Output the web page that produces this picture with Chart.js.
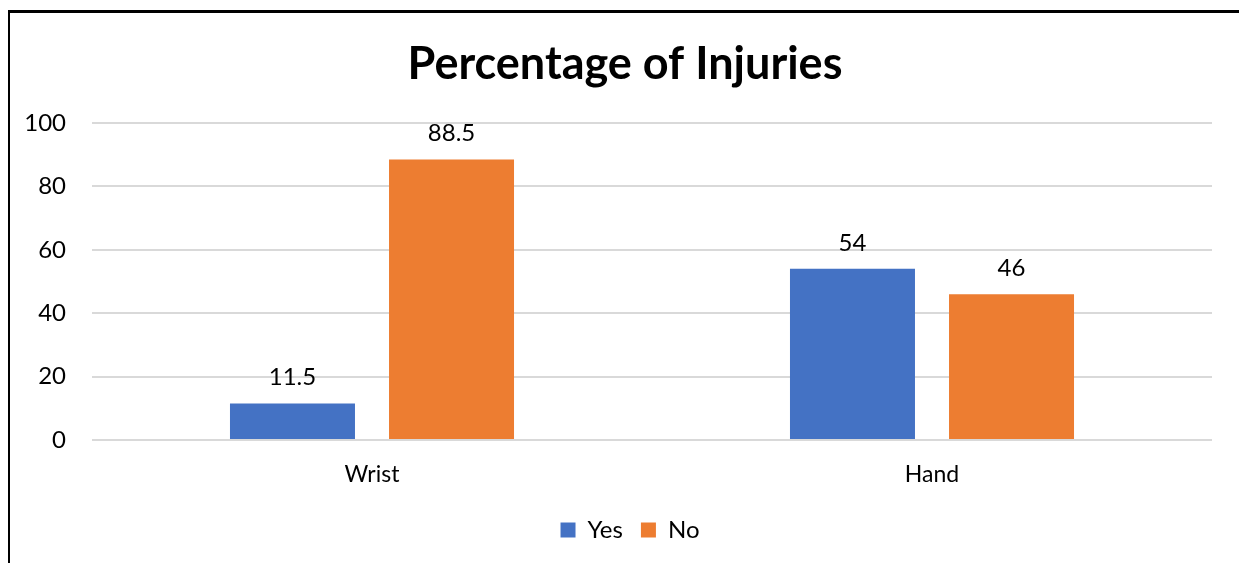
<!DOCTYPE html>
<html>
<head>
<meta charset="utf-8">
<script src="https://cdn.jsdelivr.net/npm/chart.js@4/dist/chart.umd.min.js"></script>
<style>
  html, body { margin: 0; padding: 0; background: #fff; overflow: hidden; }
  #wrap { position: relative; width: 1239px; height: 563px; }
  #frame {
    position: absolute; left: 8px; top: 10px; width: 1300px; height: 600px;
    border-left: 2px solid #000; border-top: 3px solid #000; box-sizing: border-box;
  }
  canvas { position: absolute; left: 0; top: 0; }
</style>
</head>
<body>
<div id="wrap">
  <div id="frame"></div>
  <canvas id="injuryChart" width="1239" height="563"></canvas>
</div>
<script>
// Chart data
const categories = ['Wrist', 'Hand'];
const yesValues = [11.5, 54];
const noValues = [88.5, 46];
const yTicks = [0, 20, 40, 60, 80, 100];

const colors = {
  blue: '#4472C4',
  orange: '#ED7D31',
  grid: '#D9D9D9',
  text: '#000000'
};

Chart.defaults.font.family = "Lato, 'Open Sans', sans-serif";
Chart.defaults.color = colors.text;

// Draw the value above each bar
const valueLabels = {
  id: 'valueLabels',
  afterDatasetsDraw(chart) {
    const ctx = chart.ctx;
    ctx.save();
    ctx.font = "24px Lato, 'Open Sans', sans-serif";
    ctx.fillStyle = colors.text;
    ctx.textAlign = 'center';
    ctx.textBaseline = 'middle';
    chart.data.datasets.forEach((ds, i) => {
      chart.getDatasetMeta(i).data.forEach((bar, j) => {
        ctx.fillText(String(ds.data[j]), bar.x, bar.y - 26);
      });
    });
    ctx.restore();
  }
};

// Title and legend sit centred on the whole frame, not on the plot
const centreBlocks = {
  id: 'centreBlocks',
  afterLayout(chart) {
    const shift = (box, dx) => {
      if (!box) return;
      box.left += dx;
      box.right += dx;
    };
    shift(chart.titleBlock, 18);
    shift(chart.legend, 23);
  }
};

new Chart(document.getElementById('injuryChart'), {
  type: 'bar',
  data: {
    labels: categories,
    datasets: [
      { label: 'Yes', data: yesValues, backgroundColor: colors.blue },
      { label: 'No', data: noValues, backgroundColor: colors.orange }
    ]
  },
  options: {
    responsive: false,
    animation: false,
    categoryPercentage: 0.568,
    barPercentage: 0.786,
    layout: { padding: { left: 2, right: 27, top: 20, bottom: 11 } },
    plugins: {
      title: {
        display: true,
        text: 'Percentage of Injuries',
        font: { size: 45, weight: 'bold' },
        color: colors.text,
        padding: { top: 17, bottom: 32 }
      },
      legend: {
        position: 'bottom',
        labels: {
          boxWidth: 15,
          boxHeight: 15,
          padding: 18,
          font: { size: 24 }
        }
      },
      tooltip: { enabled: false }
    },
    scales: {
      y: {
        min: 0,
        max: 100,
        afterBuildTicks(axis) {
          axis.ticks = yTicks.map(v => ({ value: v }));
        },
        afterFit(axis) { axis.width = 90; },
        border: { display: false },
        grid: { color: colors.grid, lineWidth: 2, drawTicks: false },
        ticks: { padding: 26, font: { size: 24 } }
      },
      x: {
        afterFit(axis) { axis.height = 60; },
        border: { display: false },
        grid: { display: false },
        ticks: { padding: 13, font: { size: 23 } }
      }
    }
  },
  plugins: [valueLabels, centreBlocks]
});
</script>
</body>
</html>
